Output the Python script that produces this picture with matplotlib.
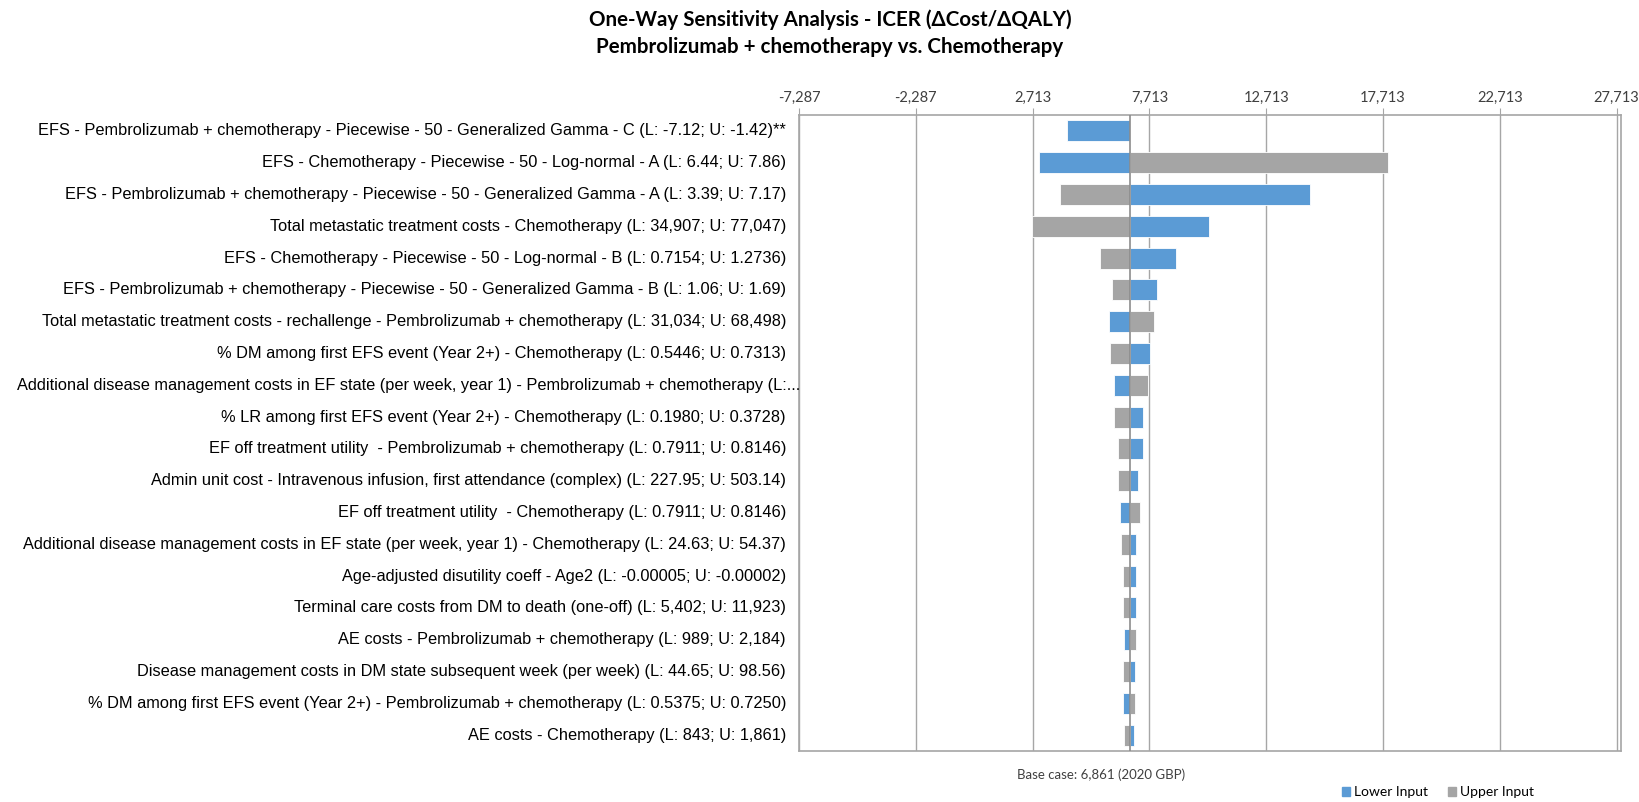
import matplotlib.pyplot as plt
from matplotlib.patches import Patch
from matplotlib import transforms
from matplotlib.ticker import FuncFormatter

# tornado diagram: ICER under lower / upper input for each parameter
params = [
    "EFS - Pembrolizumab + chemotherapy - Piecewise - 50 - Generalized Gamma - C (L: -7.12; U: -1.42)**",
    "EFS - Chemotherapy - Piecewise - 50 - Log-normal - A (L: 6.44; U: 7.86)",
    "EFS - Pembrolizumab + chemotherapy - Piecewise - 50 - Generalized Gamma - A (L: 3.39; U: 7.17)",
    "Total metastatic treatment costs - Chemotherapy (L: 34,907; U: 77,047)",
    "EFS - Chemotherapy - Piecewise - 50 - Log-normal - B (L: 0.7154; U: 1.2736)",
    "EFS - Pembrolizumab + chemotherapy - Piecewise - 50 - Generalized Gamma - B (L: 1.06; U: 1.69)",
    "Total metastatic treatment costs - rechallenge - Pembrolizumab + chemotherapy (L: 31,034; U: 68,498)",
    "% DM among first EFS event (Year 2+) - Chemotherapy (L: 0.5446; U: 0.7313)",
    "Additional disease management costs in EF state (per week, year 1) - Pembrolizumab + chemotherapy (L:...",
    "% LR among first EFS event (Year 2+) - Chemotherapy (L: 0.1980; U: 0.3728)",
    "EF off treatment utility  - Pembrolizumab + chemotherapy (L: 0.7911; U: 0.8146)",
    "Admin unit cost - Intravenous infusion, first attendance (complex) (L: 227.95; U: 503.14)",
    "EF off treatment utility  - Chemotherapy (L: 0.7911; U: 0.8146)",
    "Additional disease management costs in EF state (per week, year 1) - Chemotherapy (L: 24.63; U: 54.37)",
    "Age-adjusted disutility coeff - Age2 (L: -0.00005; U: -0.00002)",
    "Terminal care costs from DM to death (one-off) (L: 5,402; U: 11,923)",
    "AE costs - Pembrolizumab + chemotherapy (L: 989; U: 2,184)",
    "Disease management costs in DM state subsequent week (per week) (L: 44.65; U: 98.56)",
    "% DM among first EFS event (Year 2+) - Pembrolizumab + chemotherapy (L: 0.5375; U: 0.7250)",
    "AE costs - Chemotherapy (L: 843; U: 1,861)",
]
lower_icer = [4166, 2969, 14582, 10278, 8868, 8043, 5991, 7731, 6205, 7431,
              7459, 7243, 6461, 7158, 7158, 7130, 6646, 7087, 6603, 7059]
upper_icer = [6861, 17915, 3884, 2700, 5606, 6119, 7927, 6021, 7645, 6205,
              6363, 6389, 7302, 6517, 6603, 6575, 7158, 6575, 7087, 6646]
base_case = 6861
xticks = [-7287, -2287, 2713, 7713, 12713, 17713, 22713, 27713]

blue = "#5B9BD5"
grey = "#A5A5A5"
label_font = ["Liberation Sans", "DejaVu Sans"]
excel_font = ["Lato", "DejaVu Sans"]

fig = plt.figure(figsize=(16.4, 8.02), dpi=100)
ax = fig.add_axes([0.4872, 0.0636, 0.5012, 0.793])

y = list(range(len(params)))
ax.barh(y, [v - base_case for v in lower_icer], left=base_case, height=0.66,
        color=blue, edgecolor="white", linewidth=0.6, zorder=2)
ax.barh(y, [v - base_case for v in upper_icer], left=base_case, height=0.66,
        color=grey, edgecolor="white", linewidth=0.6, zorder=2)
ax.axvline(base_case, color="#8C8C8C", lw=1.2, zorder=3)

ax.set_ylim(len(params) - 0.5, -0.5)
ax.set_xlim(-7287, 27900)
ax.set_yticks([])
ax.xaxis.tick_top()
ax.set_xticks(xticks)
ax.xaxis.set_major_formatter(FuncFormatter(lambda v, p: f"{v:,.0f}"))
ax.tick_params(axis="x", direction="out", length=5, color="#A6A6A6", pad=2,
               labelsize=10.5, labelcolor="#404040")
for t in ax.get_xticklabels():
    t.set_family(excel_font)
ax.grid(axis="x", color="#A6A6A6", lw=1.0, zorder=0)
ax.set_axisbelow(True)
for s in ax.spines.values():
    s.set_color("#A6A6A6")
    s.set_linewidth(1.2)

# parameter names, right aligned against the plot frame
trans = transforms.blended_transform_factory(fig.transFigure, ax.transData)
for i, name in enumerate(params):
    x = 786 / 1640
    if name.endswith("(L:..."):
        x = 800 / 1640
    ax.text(x, i, name, transform=trans, ha="right", va="center",
            fontsize=11.8, family=label_font, color="#000000")

fig.text(0.506, 0.976, "One-Way Sensitivity Analysis - ICER (\u0394Cost/\u0394QALY)",
         ha="center", va="center", fontsize=14.8, weight="bold", family=excel_font)
fig.text(0.506, 0.941, "Pembrolizumab + chemotherapy vs. Chemotherapy",
         ha="center", va="center", fontsize=14.8, weight="bold", family=excel_font)
fig.text(1101 / 1640, 1 - 775 / 802, "Base case: 6,861 (2020 GBP)",
         ha="center", va="center", fontsize=9.5, family=excel_font, color="#404040")

handles = [Patch(color=blue, label="Lower Input"), Patch(color=grey, label="Upper Input")]
fig.legend(handles=handles, loc="center", bbox_to_anchor=(1438 / 1640, 1 - 792 / 802),
           ncol=2, frameon=False, handlelength=0.6, handleheight=0.6,
           handletextpad=0.3, columnspacing=1.4, prop={"family": excel_font, "size": 10})

fig.savefig("out.png", dpi=100)
